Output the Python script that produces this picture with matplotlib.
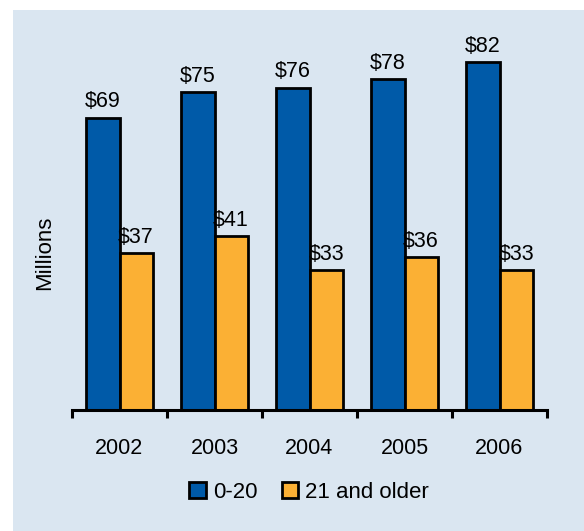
import numpy as np
import matplotlib.pyplot as plt
from matplotlib.patches import Rectangle

plt.rcParams['font.family'] = ['Liberation Sans', 'DejaVu Sans']

# data
years = ["2002", "2003", "2004", "2005", "2006"]
young = [69, 75, 76, 78, 82]
older = [37, 41, 33, 36, 33]
labels = ["0-20", "21 and older"]

# colours
bg = "#dae6f1"
blue = "#005aa8"
orange = "#fbb034"

W, H = 584, 531
fig = plt.figure(figsize=(W / 100, H / 100), dpi=100)

ax = fig.add_axes([72 / W, 121 / H, 475 / W, 390 / H])
ax.patch.set_alpha(0)

# light blue panel with white margin on top and left
ax.add_patch(Rectangle((13 / W, 0), 1, 1 - 10 / H, transform=fig.transFigure,
                       facecolor=bg, edgecolor="none", zorder=-10, clip_on=False))

x = np.arange(len(years))
w = 0.35
b1 = ax.bar(x - w / 2, young, w, color=blue, edgecolor="black", linewidth=2, label=labels[0])
b2 = ax.bar(x + w / 2, older, w, color=orange, edgecolor="black", linewidth=2, label=labels[1])

for bars, vals in [(b1, young), (b2, older)]:
    for r, v in zip(bars, vals):
        ax.annotate(f"${v}", (r.get_x() + r.get_width() / 2, v), xytext=(0, 4),
                    textcoords="offset points", ha="center", va="bottom", fontsize=15.5)

ax.set_xlim(-0.5, len(years) - 0.5)
ax.set_ylim(0, 92)

for s in ["top", "right", "left"]:
    ax.spines[s].set_visible(False)
ax.spines["bottom"].set_linewidth(2.2)

ax.set_yticks([])
ax.set_xticks(x)
ax.set_xticklabels(years, fontsize=15.5)
ax.tick_params(axis="x", which="major", length=0, pad=20)
ax.set_xticks(np.arange(len(years) + 1) - 0.5, minor=True)
ax.tick_params(axis="x", which="minor", length=6, width=2.2, direction="out")

fig.text(45 / W, 1 - 253 / H, "Millions", rotation=90, ha="center", va="center", fontsize=16)

fig.legend(loc="center", bbox_to_anchor=(309 / W, 1 - 492 / H), ncol=2, frameon=False,
           fontsize=16, handlelength=0.75, handleheight=0.75, handletextpad=0.3,
           columnspacing=1.1)

plt.savefig("out.png", dpi=100)
